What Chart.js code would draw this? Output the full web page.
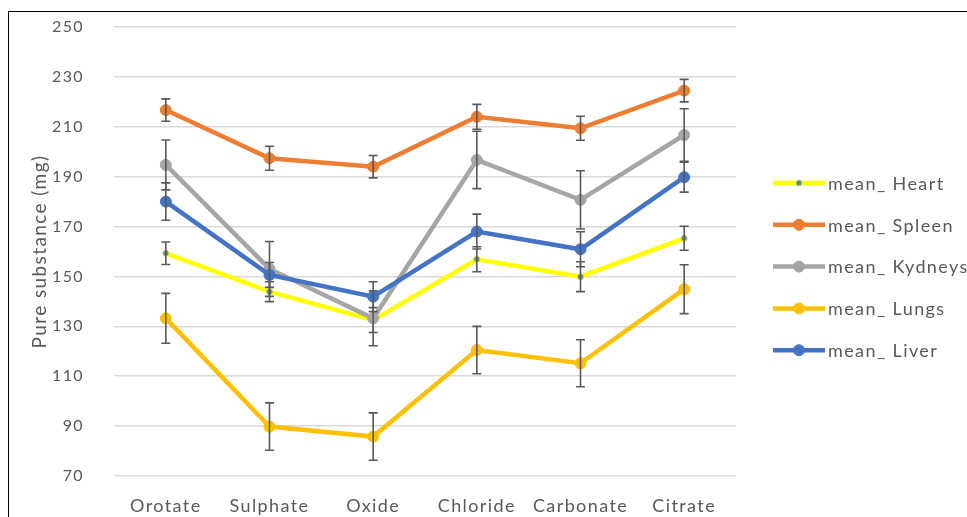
<!DOCTYPE html>
<html>
<head>
<meta charset="utf-8">
<script src="https://cdn.jsdelivr.net/npm/chart.js@4/dist/chart.umd.min.js"></script>
<style>
  html, body { margin: 0; padding: 0; background: #fff; }
  #wrap { position: relative; width: 967px; height: 517px; overflow: hidden; }
  #frame { position: absolute; left: 8px; top: 11px; right: -2px; bottom: -2px;
           border-top: 1px solid #000; border-left: 1px solid #000; pointer-events: none; }
  canvas { position: absolute; left: 0; top: 0; }
</style>
</head>
<body>
<div id="wrap">
  <canvas id="c" width="967" height="517"></canvas>
  <div id="frame"></div>
</div>
<script>
// Salt forms
const categories = ['Orotate', 'Sulphate', 'Oxide', 'Chloride', 'Carbonate', 'Citrate'];

// Mean amount of pure substance per organ (mg) and its error
const meanHeart   = [159.3, 143.9, 132.5, 156.9, 149.9, 165.3];
const errHeart    = [4.5, 4.0, 5.0, 5.0, 6.0, 4.8];
const meanSpleen  = [216.7, 197.4, 194.0, 214.0, 209.4, 224.5];
const errSpleen   = [4.5, 4.8, 4.5, 5.0, 4.8, 4.5];
const meanKydneys = [194.7, 153.0, 133.2, 196.7, 180.7, 206.7];
const errKydneys  = [10.0, 11.0, 11.0, 11.5, 11.7, 10.5];
const meanLungs   = [133.2, 89.8, 85.8, 120.5, 115.2, 144.9];
const errLungs    = [10.0, 9.5, 9.5, 9.5, 9.4, 9.8];
const meanLiver   = [180.0, 150.6, 141.9, 168.0, 160.9, 189.8];
const errLiver    = [7.5, 5.0, 6.0, 7.0, 7.0, 6.0];

// Y axis
const yMin = 70, yMax = 250, yStep = 20;

const TEXT = '#595959';
const FONT = 'Lato, "Open Sans", sans-serif';
const SPACING = '1.4px';

function series(label, data, err, color, opts) {
  return Object.assign({
    label, data, err,
    borderColor: color, backgroundColor: color,
    pointBackgroundColor: color, pointBorderColor: color,
    borderWidth: 4.5, pointRadius: 5.5, pointBorderWidth: 1,
    tension: 0, fill: false
  }, opts || {});
}

const datasets = [
  series('mean_ Heart', meanHeart, errHeart, '#FFFF00',
         { pointRadius: 3, pointBackgroundColor: '#5f87a0', pointBorderColor: '#c8dc40', order: 4 }),
  series('mean_ Spleen', meanSpleen, errSpleen, '#ED7D31', { order: 3 }),
  series('mean_ Kydneys', meanKydneys, errKydneys, '#A5A5A5', { order: 2 }),
  series('mean_ Lungs', meanLungs, errLungs, '#FFC000', { order: 1 }),
  series('mean_ Liver', meanLiver, errLiver, '#4472C4', { order: 0 })
];

// Letter spacing for all canvas text
const spacingPlugin = {
  id: 'spacing',
  beforeUpdate(chart) { chart.ctx.letterSpacing = SPACING; },
  beforeDraw(chart) { chart.ctx.letterSpacing = SPACING; }
};

// Vertical error bars with caps, drawn with each series
const errorBars = {
  id: 'errorBars',
  afterDatasetDraw(chart, args) {
    const ds = chart.data.datasets[args.index];
    if (!ds.err) return;
    const { ctx } = chart;
    const x = chart.scales.x, y = chart.scales.y;
    ctx.save();
    ctx.strokeStyle = '#595959';
    ctx.lineWidth = 1.6;
    const cap = 4.5;
    ds.data.forEach((v, i) => {
      const px = x.getPixelForValue(i);
      const top = y.getPixelForValue(v + ds.err[i]);
      const bot = y.getPixelForValue(v - ds.err[i]);
      ctx.beginPath();
      ctx.moveTo(px, top); ctx.lineTo(px, bot);
      ctx.moveTo(px - cap, top); ctx.lineTo(px + cap, top);
      ctx.moveTo(px - cap, bot); ctx.lineTo(px + cap, bot);
      ctx.stroke();
    });
    ctx.restore();
  }
};

// Legend on the right: line with a marker, then the label
const sideLegend = {
  id: 'sideLegend',
  afterDraw(chart) {
    const { ctx } = chart;
    const x0 = 773, x1 = 825, textX = 828, y0 = 183, gap = 41.8;
    ctx.save();
    ctx.letterSpacing = SPACING;
    ctx.font = '18px ' + FONT;
    ctx.textBaseline = 'middle';
    ctx.textAlign = 'left';
    chart.data.datasets.forEach((ds, i) => {
      const yy = y0 + i * gap;
      ctx.strokeStyle = ds.borderColor;
      ctx.lineWidth = ds.borderWidth;
      ctx.beginPath(); ctx.moveTo(x0, yy); ctx.lineTo(x1, yy); ctx.stroke();
      const cx = (x0 + x1) / 2;
      ctx.beginPath();
      ctx.arc(cx, yy, ds.pointRadius, 0, Math.PI * 2);
      ctx.fillStyle = ds.pointBackgroundColor;
      ctx.fill();
      ctx.lineWidth = ds.pointBorderWidth;
      ctx.strokeStyle = ds.pointBorderColor;
      ctx.stroke();
      ctx.fillStyle = TEXT;
      ctx.fillText(ds.label, textX, yy + 1);
    });
    ctx.restore();
  }
};

new Chart(document.getElementById('c'), {
  type: 'line',
  data: { labels: categories, datasets },
  plugins: [spacingPlugin, errorBars, sideLegend],
  options: {
    responsive: false,
    animation: false,
    events: [],
    layout: { padding: { left: 0, right: 231, top: 27, bottom: 0 } },
    plugins: { legend: { display: false }, tooltip: { enabled: false } },
    scales: {
      x: {
        offset: true,
        grid: { display: false, drawTicks: false },
        border: { display: false },
        ticks: { color: TEXT, font: { family: FONT, size: 18 }, padding: 19, maxRotation: 0 },
        afterFit(s) { s.height = 41; }
      },
      y: {
        min: yMin, max: yMax,
        ticks: { stepSize: yStep, color: TEXT, font: { family: FONT, size: 16 }, padding: 0 },
        grid: { color: '#d9d9d9', lineWidth: 1.5, drawTicks: true, tickLength: 30, tickColor: 'rgba(0,0,0,0)' },
        border: { display: false },
        title: { display: true, text: 'Pure substance (mg)', color: TEXT,
                 font: { family: FONT, size: 19 }, padding: { top: 28, bottom: 0 } },
        afterFit(s) { s.width = 114; }
      }
    }
  }
});
</script>
</body>
</html>
